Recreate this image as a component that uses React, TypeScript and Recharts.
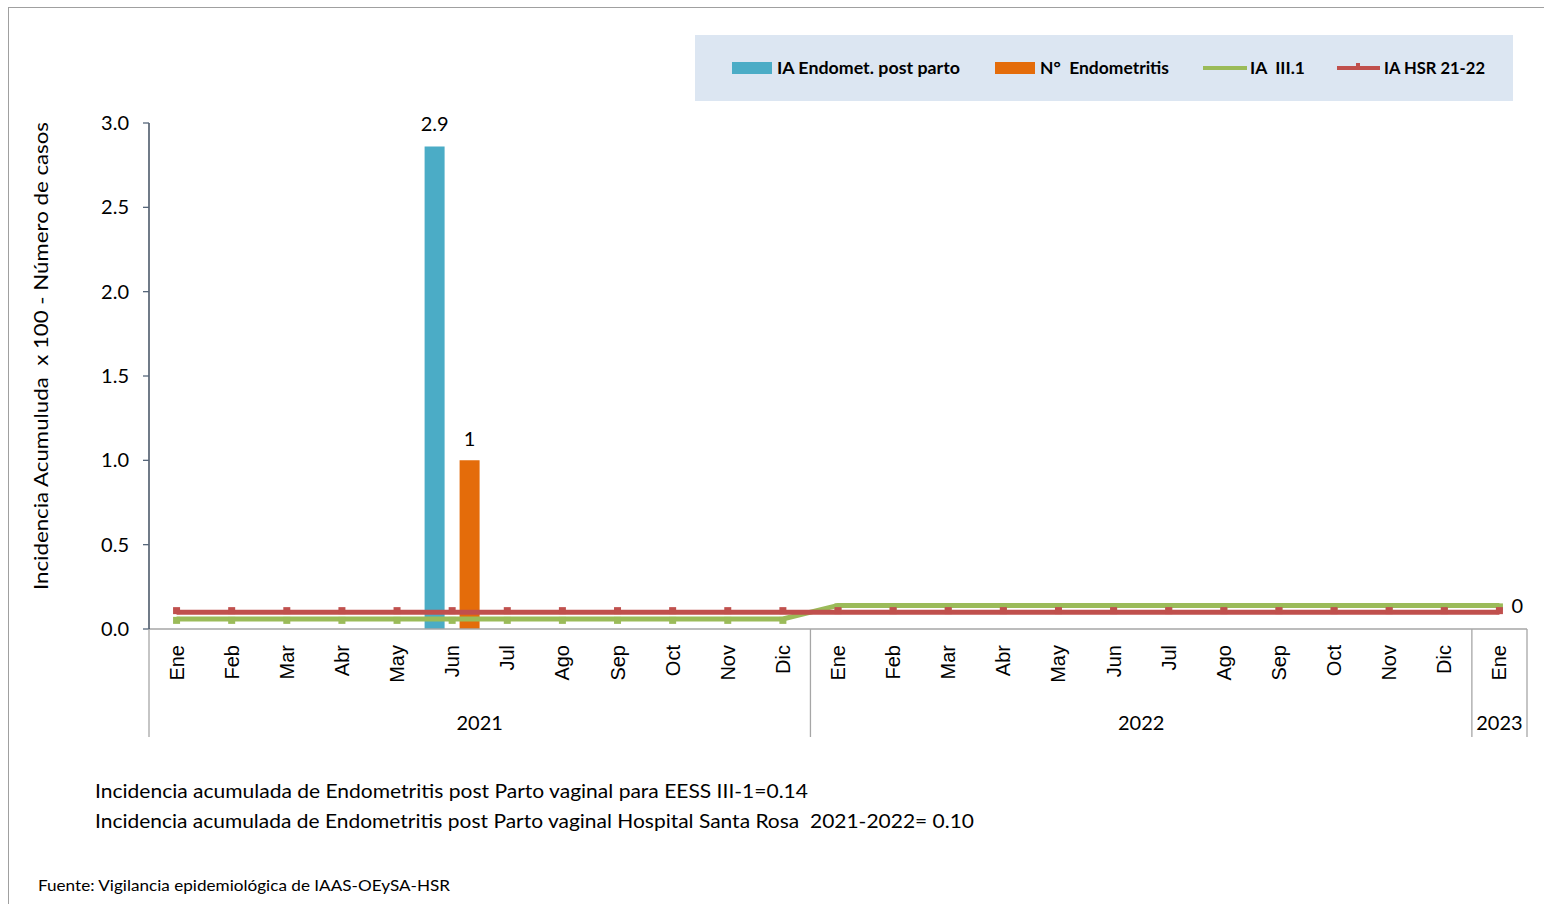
import React from "react";
import { Bar, ComposedChart, LabelList, Line, XAxis, YAxis } from "recharts";

const meses = [
  "Ene", "Feb", "Mar", "Abr", "May", "Jun", "Jul", "Ago", "Sep", "Oct", "Nov", "Dic",
  "Ene", "Feb", "Mar", "Abr", "May", "Jun", "Jul", "Ago", "Sep", "Oct", "Nov", "Dic",
  "Ene",
];
const anios = [
  2021, 2021, 2021, 2021, 2021, 2021, 2021, 2021, 2021, 2021, 2021, 2021,
  2022, 2022, 2022, 2022, 2022, 2022, 2022, 2022, 2022, 2022, 2022, 2022,
  2023,
];
// IA Endomet. post parto (barra azul)
const iaEndomet = [
  null, null, null, null, null, 2.86, null, null, null, null, null, null,
  null, null, null, null, null, null, null, null, null, null, null, null,
  null,
];
// N° Endometritis (barra naranja)
const nEndometritis = [
  null, null, null, null, null, 1, null, null, null, null, null, null,
  null, null, null, null, null, null, null, null, null, null, null, null,
  null,
];
// IA III.1 (linea verde)
const iaIII1 = [
  0.06, 0.06, 0.06, 0.06, 0.06, 0.06, 0.06, 0.06, 0.06, 0.06, 0.06, 0.06,
  0.14, 0.14, 0.14, 0.14, 0.14, 0.14, 0.14, 0.14, 0.14, 0.14, 0.14, 0.14,
  0.14,
];
// IA HSR 21-22 (linea roja)
const iaHSR = [
  0.1, 0.1, 0.1, 0.1, 0.1, 0.1, 0.1, 0.1, 0.1, 0.1, 0.1, 0.1,
  0.1, 0.1, 0.1, 0.1, 0.1, 0.1, 0.1, 0.1, 0.1, 0.1, 0.1, 0.1,
  0.1,
];
const yTicks = [0, 0.5, 1, 1.5, 2, 2.5, 3];

const data = meses.map((mes, i) => ({
  key: `${mes}-${anios[i]}`,
  mes,
  anio: anios[i],
  ia: iaEndomet[i],
  n: nEndometritis[i],
  iii1: iaIII1[i],
  hsr: iaHSR[i],
}));

const AZUL = "#4BACC6";
const NARANJA = "#E46C0A";
const VERDE = "#9BBB59";
const ROJO = "#C0504D";
const GRIS = "#A6A6A6";
const CALIBRI = "Lato, 'Open Sans', sans-serif";
const ARIAL = "'Liberation Sans', Arial, sans-serif";
const PRE = { whiteSpace: "pre" as const };

const CHART_W = 1544;
const CHART_H = 760;
const MARGIN = { top: 123, right: 17, bottom: 23, left: 89 };
const Y_AXIS_W = 60;
const X_AXIS_H = 108;
const PLOT_W = CHART_W - MARGIN.left - Y_AXIS_W - MARGIN.right;
const PLOT_BOTTOM = CHART_H - MARGIN.bottom - X_AXIS_H;

const MonthTick = (props: any) => {
  const { x, index } = props;
  const step = PLOT_W / meses.length;
  const y0 = PLOT_BOTTOM;
  const nuevoAnio = index === 0 || anios[index] !== anios[index - 1];
  const ultimo = index === meses.length - 1;
  let yearLabel = null;
  if (nuevoAnio) {
    const count = anios.filter((a) => a === anios[index]).length;
    const cx = x - step / 2 + (count * step) / 2;
    yearLabel = (
      <text x={cx} y={y0 + 93} textAnchor="middle" dominantBaseline="central"
        fontFamily={CALIBRI} fontSize={20} fill="#000">
        {anios[index]}
      </text>
    );
  }
  return (
    <g>
      <text
        x={x}
        y={y0 + 16}
        transform={`rotate(-90 ${x} ${y0 + 16})`}
        textAnchor="end"
        dominantBaseline="central"
        fontFamily={ARIAL}
        fontSize={20}
        fill="#000"
      >
        {meses[index]}
      </text>
      {nuevoAnio && (
        <line x1={x - step / 2} x2={x - step / 2} y1={y0} y2={y0 + X_AXIS_H}
          stroke={GRIS} strokeWidth={1.3} />
      )}
      {ultimo && (
        <line x1={x + step / 2} x2={x + step / 2} y1={y0} y2={y0 + X_AXIS_H}
          stroke={GRIS} strokeWidth={1.3} />
      )}
      {yearLabel}
    </g>
  );
};

const RedDot = (props: any) => {
  const { cx, cy } = props;
  if (cx == null || cy == null) return null;
  return <rect x={cx - 3.5} y={cy - 5} width={7} height={7} fill={ROJO} />;
};

const GreenDot = (props: any) => {
  const { cx, cy } = props;
  if (cx == null || cy == null) return null;
  return <rect x={cx - 3.5} y={cy - 2} width={7} height={7} fill={VERDE} />;
};

const EndLabel = (props: any) => {
  const { x, y, index, value } = props;
  if (index !== meses.length - 1) return null;
  return (
    <text x={x + 12} y={y} dominantBaseline="central" fontFamily={CALIBRI}
      fontSize={20} fill="#000">
      {Math.round(value)}
    </text>
  );
};

const Leyenda = () => (
  <svg width={818} height={66} style={{ position: "absolute", left: 695, top: 35 }}>
    <rect x={0} y={0} width={818} height={66} fill="#DCE6F2" />
    <rect x={37} y={27} width={40} height={12} fill={AZUL} />
    <text x={82} y={39} fontFamily={CALIBRI} fontWeight="bold" fontSize={17} style={PRE}
      textLength={183} lengthAdjust="spacingAndGlyphs">IA Endomet. post parto</text>
    <rect x={300} y={27} width={40} height={12} fill={NARANJA} />
    <text x={345} y={39} fontFamily={CALIBRI} fontWeight="bold" fontSize={17} style={PRE}
      textLength={129} lengthAdjust="spacingAndGlyphs">N°  Endometritis</text>
    <line x1={508} x2={552} y1={33} y2={33} stroke={VERDE} strokeWidth={4} />
    <text x={555} y={39} fontFamily={CALIBRI} fontWeight="bold" fontSize={17} style={PRE}
      textLength={55} lengthAdjust="spacingAndGlyphs">IA  III.1</text>
    <line x1={642} x2={685} y1={33} y2={33} stroke={ROJO} strokeWidth={4} />
    <rect x={661} y={28} width={4} height={6} fill={ROJO} />
    <text x={689} y={39} fontFamily={CALIBRI} fontWeight="bold" fontSize={17} style={PRE}
      textLength={101} lengthAdjust="spacingAndGlyphs">IA HSR 21-22</text>
  </svg>
);

const Notas = () => (
  <svg width={1544} height={904} style={{ position: "absolute", left: 0, top: 0, pointerEvents: "none" }}>
    <text
      x={40}
      y={356}
      transform="rotate(-90 40 356)"
      textAnchor="middle"
      dominantBaseline="central"
      fontFamily={CALIBRI}
      fontSize={20}
      textLength={468}
      lengthAdjust="spacingAndGlyphs"
      fill="#000"
      style={PRE}
    >
      Incidencia Acumuluda  x 100 - Número de casos
    </text>
    <text x={95} y={798} fontFamily={CALIBRI} fontSize={20} fill="#000" style={PRE}
      textLength={713} lengthAdjust="spacingAndGlyphs">
      Incidencia acumulada de Endometritis post Parto vaginal para EESS III-1=0.14
    </text>
    <text x={95} y={828} fontFamily={CALIBRI} fontSize={20} fill="#000" style={PRE}
      textLength={879} lengthAdjust="spacingAndGlyphs">
      Incidencia acumulada de Endometritis post Parto vaginal Hospital Santa Rosa  2021-2022= 0.10
    </text>
    <text x={38} y={891} fontFamily={CALIBRI} fontSize={16} fill="#000"
      textLength={412} lengthAdjust="spacingAndGlyphs">
      Fuente: Vigilancia epidemiológica de IAAS-OEySA-HSR
    </text>
  </svg>
);

export default function App() {
  return (
    <div style={{ position: "relative", width: 1544, height: 904, overflow: "hidden", background: "#fff" }}>
      <style>{`body{margin:0;overflow:hidden;}`}</style>
      <div
        style={{
          position: "absolute",
          left: 8,
          top: 7,
          width: 1600,
          height: 1000,
          borderLeft: "1px solid #A0A0A0",
          borderTop: "1px solid #A0A0A0",
        }}
      />
      <div style={{ position: "absolute", left: 0, top: 0 }}>
        <ComposedChart width={CHART_W} height={CHART_H} data={data} margin={MARGIN}
          barSize={20} barGap={15}>
          <XAxis
            dataKey="key"
            height={X_AXIS_H}
            interval={0}
            axisLine={{ stroke: GRIS, strokeWidth: 1.3 }}
            tickLine={false}
            tick={(p: any) => <MonthTick {...p} />}
          />
          <YAxis
            width={Y_AXIS_W}
            domain={[0, 3]}
            ticks={yTicks}
            interval={0}
            tickFormatter={(v: number) => v.toFixed(1)}
            tickSize={6}
            tickMargin={14}
            axisLine={{ stroke: "#243447", strokeWidth: 1.3 }}
            tickLine={{ stroke: "#56667A", strokeWidth: 1.3 }}
            tick={{ fill: "#000", fontSize: 20, fontFamily: CALIBRI }}
          />
          <Bar dataKey="ia" fill={AZUL} isAnimationActive={false}>
            <LabelList dataKey="ia" position="top" offset={16}
              formatter={(v: any) => (v == null ? "" : Number(v).toFixed(1))}
              style={{ fill: "#000", fontSize: 20, fontFamily: CALIBRI }} />
          </Bar>
          <Bar dataKey="n" fill={NARANJA} isAnimationActive={false}>
            <LabelList dataKey="n" position="top" offset={14}
              formatter={(v: any) => (v == null ? "" : String(v))}
              style={{ fill: "#000", fontSize: 20, fontFamily: CALIBRI }} />
          </Bar>
          <Line type="linear" dataKey="iii1" stroke={VERDE} strokeWidth={5}
            dot={<GreenDot />} activeDot={false} isAnimationActive={false}>
            <LabelList dataKey="iii1" content={<EndLabel />} />
          </Line>
          <Line type="linear" dataKey="hsr" stroke={ROJO} strokeWidth={5}
            dot={<RedDot />} activeDot={false} isAnimationActive={false} />
        </ComposedChart>
      </div>
      <Leyenda />
      <Notas />
    </div>
  );
}
